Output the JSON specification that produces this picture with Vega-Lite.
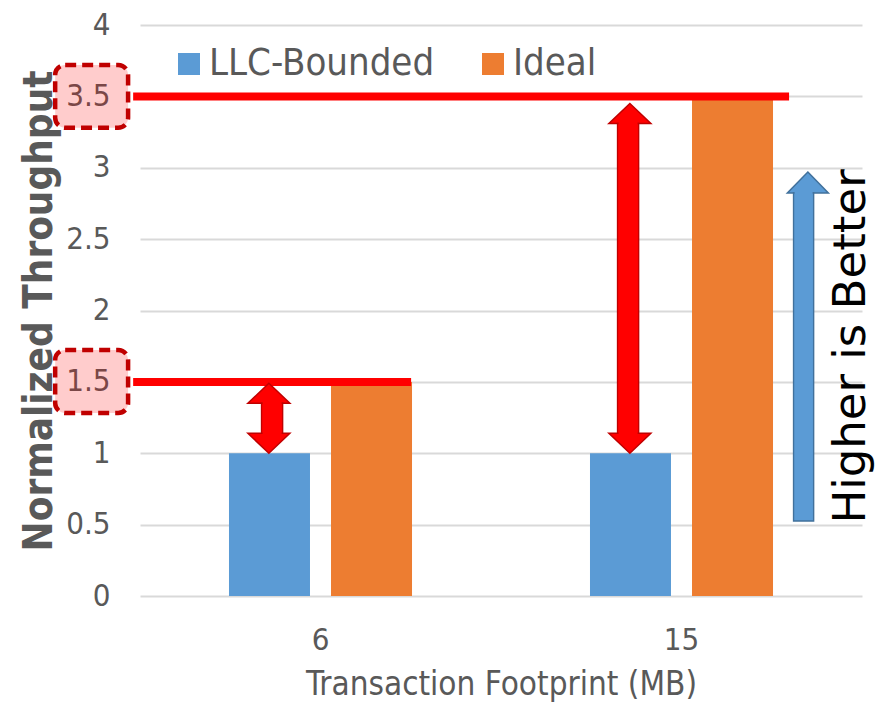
{
  "$schema": "https://vega.github.io/schema/vega-lite/v6.json",
  "width": 722,
  "height": 571,
  "autosize": {"type": "none"},
  "padding": {"left": 140, "top": 25, "right": 28, "bottom": 108},
  "background": "white",
  "config": {"view": {"stroke": null}, "font": "DejaVu Sans Condensed, DejaVu Sans"},
  "resolve": {"scale": {"x": "independent", "xOffset": "independent"}},
  "layer": [
    {
      "data": {"values": [
        {"footprint": "6", "series": "LLC-Bounded", "value": 1},
        {"footprint": "6", "series": "Ideal", "value": 1.5},
        {"footprint": "15", "series": "LLC-Bounded", "value": 1},
        {"footprint": "15", "series": "Ideal", "value": 3.5}
      ]},
      "mark": {"type": "bar"},
      "encoding": {
        "x": {"field": "footprint", "type": "nominal", "sort": ["6", "15"],
          "scale": {"paddingInner": 0.493, "paddingOuter": 0.2465},
          "axis": {"title": "Transaction Footprint (MB)", "labelAngle": 0, "labelFontSize": 31, "labelColor": "#595959", "labelPadding": 29, "ticks": false, "domain": false, "titleFontSize": 33, "titleFontWeight": "normal", "titleColor": "#595959", "titlePadding": 13}},
        "xOffset": {"field": "series", "type": "nominal", "sort": ["LLC-Bounded", "Ideal"], "scale": {"paddingInner": 0.206, "paddingOuter": 0}},
        "y": {"field": "value", "type": "quantitative", "scale": {"domain": [0, 4], "nice": false},
          "axis": {"title": "Normalized Throughput", "values": [0, 0.5, 1, 1.5, 2, 2.5, 3, 3.5, 4], "format": "~g", "labelFontSize": 31, "labelColor": "#595959", "labelPadding": 30, "ticks": false, "domain": false, "gridColor": "#d9d9d9", "gridWidth": 2, "titleFontSize": 40, "titleFontWeight": "bold", "titleColor": "#595959", "titlePadding": 6}},
        "color": {"field": "series", "type": "nominal", "scale": {"domain": ["LLC-Bounded", "Ideal"], "range": ["#5b9bd5", "#ed7d31"]},
          "legend": {"title": null, "orient": "none", "legendX": 30, "legendY": 20, "direction": "horizontal", "labelFontSize": 38, "labelColor": "#595959", "symbolType": "square", "symbolSize": 484, "symbolStrokeWidth": 0, "symbolOpacity": 1, "labelOffset": 1, "columnPadding": 39, "labelLimit": 400, "padding": 0}}
      }
    },
    {
      "data": {"values": [
        {"value": 3.5, "from": -0.019, "to": 1.798},
        {"value": 1.5, "from": -0.019, "to": 0.751}
      ]},
      "mark": {"type": "rule", "color": "#ff0000", "strokeWidth": 8},
      "encoding": {
        "x": {"field": "from", "type": "quantitative", "scale": {"domain": [0, 2], "nice": false, "zero": false}, "axis": null},
        "x2": {"field": "to"},
        "y": {"field": "value", "type": "quantitative", "scale": {"domain": [0, 4], "nice": false}}
      }
    },
    {
      "data": {"values": [
        {"left": -0.235, "right": -0.033, "value": 3.72, "bottom": 3.28},
        {"left": -0.235, "right": -0.033, "value": 1.723, "bottom": 1.282}
      ]},
      "mark": {"type": "rect", "cornerRadius": 10, "fill": "#ff0000", "fillOpacity": 0.2, "stroke": "#c00000", "strokeWidth": 4.5, "strokeDash": [11, 6]},
      "encoding": {
        "x": {"field": "left", "type": "quantitative", "scale": {"domain": [0, 2], "nice": false, "zero": false}, "axis": null},
        "x2": {"field": "right"},
        "y": {"field": "value", "type": "quantitative", "scale": {"domain": [0, 4], "nice": false}},
        "y2": {"field": "bottom"}
      }
    },
    {
      "data": {"values": [
        {"p": 0.357, "value": 1.49, "dir": "up"},
        {"p": 0.357, "value": 1.0, "dir": "down"},
        {"p": 1.357, "value": 3.45, "dir": "up"},
        {"p": 1.357, "value": 1.0, "dir": "down"}
      ]},
      "mark": {"type": "point", "filled": true, "fill": "#ff0000", "stroke": "#c00000", "strokeWidth": 1.5, "size": 1764, "opacity": 1},
      "encoding": {
        "x": {"field": "p", "type": "quantitative", "scale": {"domain": [0, 2], "nice": false, "zero": false}, "axis": null},
        "y": {"field": "value", "type": "quantitative", "scale": {"domain": [0, 4], "nice": false}},
        "shape": {"field": "dir", "type": "nominal", "scale": {"domain": ["up", "down"], "range": ["M0,0L1,0.95L-1,0.95Z", "M0,0L1,-0.95L-1,-0.95Z"]}, "legend": null}
      }
    },
    {
      "data": {"values": [
        {"p": 0.357, "value": 1.14, "hi": 1.35},
        {"p": 1.357, "value": 1.14, "hi": 3.31}
      ]},
      "mark": {"type": "bar", "width": 21, "fill": "#ff0000", "stroke": "#c00000", "strokeWidth": 1.5, "orient": "vertical"},
      "encoding": {
        "x": {"field": "p", "type": "quantitative", "scale": {"domain": [0, 2], "nice": false, "zero": false}, "axis": null},
        "y": {"field": "value", "type": "quantitative", "scale": {"domain": [0, 4], "nice": false}},
        "y2": {"field": "hi"}
      }
    },
    {
      "data": {"values": [
        {"p": 0.357, "value": 1.14, "hi": 1.35},
        {"p": 1.357, "value": 1.14, "hi": 3.31}
      ]},
      "mark": {"type": "bar", "width": 19, "fill": "#ff0000", "strokeWidth": 0, "orient": "vertical", "yOffset": 2, "y2Offset": -2},
      "encoding": {
        "x": {"field": "p", "type": "quantitative", "scale": {"domain": [0, 2], "nice": false, "zero": false}, "axis": null},
        "y": {"field": "value", "type": "quantitative", "scale": {"domain": [0, 4], "nice": false}},
        "y2": {"field": "hi"}
      }
    },
    {
      "data": {"values": [{"p": 1.85, "value": 2.97}]},
      "mark": {"type": "point", "filled": true, "fill": "#5b9bd5", "stroke": "#41719c", "strokeWidth": 1.5, "size": 1681, "opacity": 1, "shape": "M0,0L1,1.02L-1,1.02Z"},
      "encoding": {
        "x": {"field": "p", "type": "quantitative", "scale": {"domain": [0, 2], "nice": false, "zero": false}, "axis": null},
        "y": {"field": "value", "type": "quantitative", "scale": {"domain": [0, 4], "nice": false}}
      }
    },
    {
      "data": {"values": [{"p": 1.85, "value": 0.525, "hi": 2.823}]},
      "mark": {"type": "bar", "width": 20, "fill": "#5b9bd5", "stroke": "#41719c", "strokeWidth": 1.5, "orient": "vertical"},
      "encoding": {
        "x": {"field": "p", "type": "quantitative", "scale": {"domain": [0, 2], "nice": false, "zero": false}, "axis": null},
        "y": {"field": "value", "type": "quantitative", "scale": {"domain": [0, 4], "nice": false}},
        "y2": {"field": "hi"}
      }
    },
    {
      "data": {"values": [{"p": 1.85, "value": 0.525, "hi": 2.823}]},
      "mark": {"type": "bar", "width": 18, "fill": "#5b9bd5", "strokeWidth": 0, "orient": "vertical", "yOffset": -1, "y2Offset": -2},
      "encoding": {
        "x": {"field": "p", "type": "quantitative", "scale": {"domain": [0, 2], "nice": false, "zero": false}, "axis": null},
        "y": {"field": "value", "type": "quantitative", "scale": {"domain": [0, 4], "nice": false}},
        "y2": {"field": "hi"}
      }
    },
    {
      "data": {"values": [{"label": "Higher is Better", "p": 2.008, "value": 1.748}]},
      "mark": {"type": "text", "angle": 270, "align": "center", "baseline": "alphabetic", "fontSize": 45, "font": "DejaVu Sans", "color": "#000000"},
      "encoding": {
        "x": {"field": "p", "type": "quantitative", "scale": {"domain": [0, 2], "nice": false, "zero": false}, "axis": null},
        "y": {"field": "value", "type": "quantitative", "scale": {"domain": [0, 4], "nice": false}},
        "text": {"field": "label"}
      }
    }
  ]
}
